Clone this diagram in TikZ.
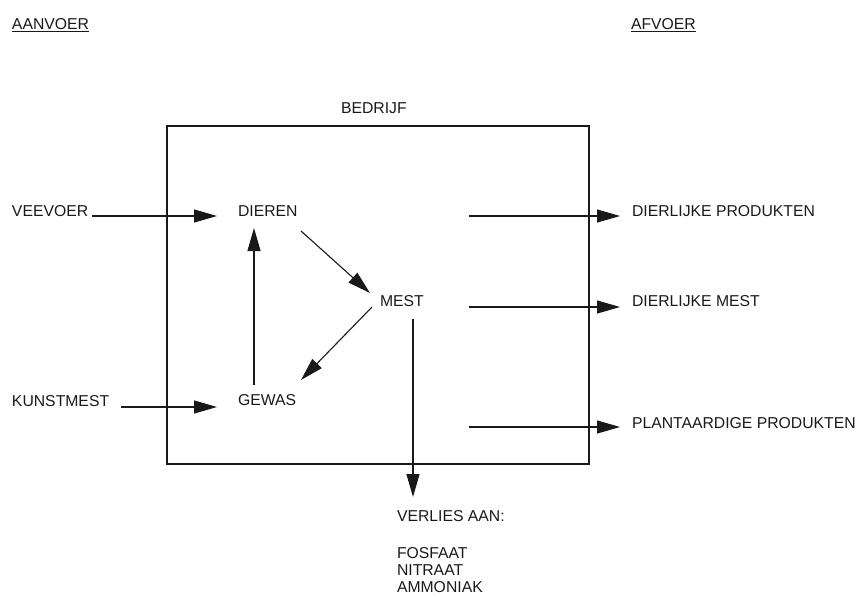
\documentclass[tikz,border=0pt]{standalone}
\usepackage{fontspec}
\setmainfont{Liberation Sans}
\usetikzlibrary{arrows.meta}
\begin{document}
\begin{tikzpicture}[x=1pt,y=-1pt,
  lbl/.style={anchor=base west,inner sep=0pt,outer sep=0pt,font=\fontsize{15.75}{18}\selectfont,text=black!90},
  arr/.style={line width=1.1pt,draw=black!90,-{Triangle[length=23pt,width=13pt]}},
  frame/.style={draw=black!90,line width=1.2pt,rectangle,inner sep=0pt,minimum width=422pt,minimum height=338pt}]
\useasboundingbox (0,0) rectangle (860,597);
% headings
\node[lbl] (aanvoer) at (12,30) {\underline{AANVOER}};
\node[lbl] (afvoer) at (631,30) {\underline{AFVOER}};
\node[lbl] (bedrijflbl) at (341,113) {BEDRIJF};
% box
\node[frame] (box) at (378,295) {};
% nodes
\node[lbl] (veevoer) at (12,216) {VEEVOER};
\node[lbl] (kunstmest) at (12,406) {KUNSTMEST};
\node[lbl] (dieren) at (238,216) {DIEREN};
\node[lbl] (mest) at (380,306) {MEST};
\node[lbl] (gewas) at (238,405) {GEWAS};
\node[lbl] (dprod) at (632,216) {DIERLIJKE PRODUKTEN};
\node[lbl] (dmest) at (632,306) {DIERLIJKE MEST};
\node[lbl] (pprod) at (632,428) {PLANTAARDIGE PRODUKTEN};
\node[lbl] (verlies) at (397,521) {VERLIES AAN:};
\node[lbl] (fosfaat) at (397,558) {FOSFAAT};
\node[lbl] (nitraat) at (397,575) {NITRAAT};
\node[lbl] (ammoniak) at (397,592) {AMMONIAK};
% free tails of outgoing arrows
\coordinate (t1) at (469,216);
\coordinate (t2) at (469,307);
\coordinate (t3) at (469,427);
% connectors
\draw[arr] ([shift={(4,0)}]veevoer.base east) -- ([shift={(-21,0)}]dieren.base west);
\draw[arr] ([shift={(12,1)}]kunstmest.base east) -- ([shift={(-21,2)}]gewas.base west);
\draw[arr] ([shift={(3.5,15)}]dieren.base east) -- ([shift={(-10,-13)}]mest.base west);
\draw[arr] ([shift={(-8,1)}]mest.base west) -- ([shift={(63,-25)}]gewas.base west);
\draw[arr] ([shift={(16,-20)}]gewas.base west) -- ([shift={(16,12)}]dieren.base west);
\draw[arr] ([shift={(33,13)}]mest.base west) -- ([shift={(16,-24)}]verlies.base west);
\draw[arr] (t1) -- ([shift={(-12,0)}]dprod.base west);
\draw[arr] (t2) -- ([shift={(-12,1)}]dmest.base west);
\draw[arr] (t3) -- ([shift={(-12,-1)}]pprod.base west);
\end{tikzpicture}
\end{document}
